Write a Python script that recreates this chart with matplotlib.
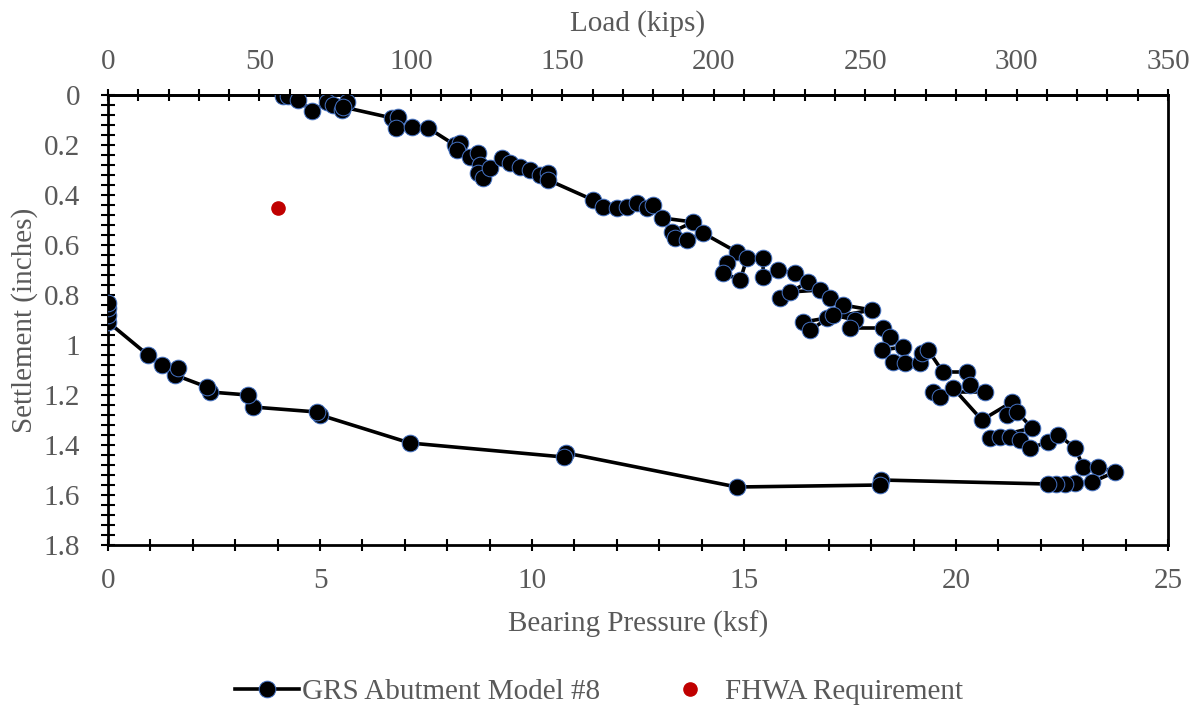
import matplotlib.pyplot as plt
from matplotlib.ticker import MultipleLocator, FixedLocator, FuncFormatter

plt.rcParams['font.family'] = ['Liberation Serif', 'DejaVu Serif']

# load test of GRS abutment model #8: loading branch then unloading branch
pressure_ksf = [
    4.13, 4.25, 4.48, 4.81, 5.17, 5.31, 5.52, 5.64, 5.54,
    6.70, 6.84, 6.79, 7.17, 7.55, 8.18, 8.30, 8.23, 8.54, 8.73,
    8.77, 8.73, 8.84, 9.01, 9.29, 9.48, 9.72, 9.95, 10.19, 10.38, 10.38,
    11.44, 11.67, 12.00, 12.24, 12.48, 12.71, 12.85, 13.07, 13.80,
    13.30, 13.37, 13.66, 14.03, 14.83, 14.60, 14.50, 14.91, 15.07,
    15.45, 15.45, 15.80, 16.20, 16.51, 15.85, 16.08, 16.79, 17.03,
    17.33, 18.02, 16.96, 16.39, 16.56, 17.10, 17.62, 17.50, 18.28,
    18.44, 18.75, 18.25, 18.51, 18.80, 19.15, 19.20, 19.34, 19.69,
    20.26, 20.33, 20.68, 19.46, 19.62, 19.93, 20.61, 21.32, 21.20,
    21.44, 21.79, 20.80, 21.04, 21.27, 21.51, 21.75, 22.17, 22.41,
    22.81, 23.00, 23.35, 23.75,
    23.21, 22.81, 22.57, 22.36, 22.17, 18.23, 18.21, 14.83, 10.80,
    10.75, 7.12, 5.00, 4.93, 3.42, 3.30, 2.41, 2.33, 1.58, 1.65,
    1.27, 0.94, 0.0, 0.0, 0.0, 0.0,
]
settlement_in = [
    0.004, 0.004, 0.02, 0.064, 0.028, 0.04, 0.06, 0.028, 0.048,
    0.092, 0.088, 0.132, 0.128, 0.132, 0.20, 0.192, 0.22, 0.248, 0.232,
    0.28, 0.312, 0.332, 0.292, 0.252, 0.272, 0.288, 0.30, 0.32, 0.312, 0.34,
    0.42, 0.448, 0.452, 0.448, 0.432, 0.452, 0.44, 0.492, 0.508,
    0.548, 0.572, 0.58, 0.552, 0.628, 0.672, 0.712, 0.74, 0.652,
    0.652, 0.728, 0.70, 0.712, 0.748, 0.812, 0.788, 0.78, 0.812,
    0.84, 0.86, 0.892, 0.908, 0.94, 0.88, 0.90, 0.932, 0.932,
    0.968, 1.008, 1.02, 1.068, 1.072, 1.072, 1.032, 1.02, 1.108,
    1.108, 1.16, 1.188, 1.188, 1.208, 1.172, 1.30, 1.228, 1.28,
    1.268, 1.332, 1.372, 1.368, 1.368, 1.38, 1.412, 1.388, 1.36,
    1.412, 1.488, 1.488, 1.508,
    1.548, 1.552, 1.556, 1.556, 1.556, 1.54, 1.56, 1.568, 1.432,
    1.448, 1.392, 1.28, 1.268, 1.248, 1.20, 1.188, 1.168, 1.12, 1.092,
    1.08, 1.04, 0.908, 0.88, 0.852, 0.832,
]
fhwa_pressure = [4.0]
fhwa_settlement = [0.45]

load_ticks = [0, 50, 100, 150, 200, 250, 300, 350]
kips_per_ksf = 14.0
text_gray = '#595959'

fig = plt.figure(figsize=(11.98, 7.09), dpi=100)
ax = fig.add_axes([0.0902, 0.2313, 0.8848, 0.6347])

ax.plot(pressure_ksf, settlement_in, color='black', lw=2.6, marker='o',
        ms=12, mfc='black', mec='#4472C4', mew=0.7,
        label='GRS Abutment Model #8', zorder=3)
ax.plot(fhwa_pressure, fhwa_settlement, ls='none', marker='o', ms=9.5,
        color='#C00000', label='FHWA Requirement', zorder=4)

ax.set_xlim(0, 25)
ax.set_ylim(1.8, 0)
ax.xaxis.set_major_locator(MultipleLocator(5))
ax.xaxis.set_minor_locator(MultipleLocator(1))
ax.yaxis.set_major_locator(MultipleLocator(0.2))
ax.yaxis.set_minor_locator(MultipleLocator(0.04))
ax.yaxis.set_major_formatter(FuncFormatter(lambda v, p: '%g' % round(v, 2)))

for s in ax.spines.values():
    s.set_linewidth(2.0)
    s.set_color('black')

ax.tick_params(which='both', direction='inout', length=9, width=1.5,
               color='black', labelsize=21, labelcolor=text_gray, pad=12)
ax.tick_params(axis='y', which='both', length=10, pad=15)

ax.set_xlabel('Bearing Pressure (ksf)', fontsize=21, color=text_gray,
              labelpad=12)
ax.set_ylabel('Settlement (inches)', fontsize=21, color=text_gray,
              labelpad=4)

top = ax.secondary_xaxis('top', functions=(lambda x: x * kips_per_ksf,
                                           lambda x: x / kips_per_ksf))
top.xaxis.set_major_locator(FixedLocator(load_ticks))
top.xaxis.set_minor_locator(FixedLocator(range(0, 351, 10)))
top.spines['top'].set_linewidth(2.0)
top.tick_params(which='both', direction='inout', length=9, width=1.5,
                color='black', labelsize=21, labelcolor=text_gray, pad=10)
top.set_xlabel('Load (kips)', fontsize=21, color=text_gray, labelpad=13)

leg = fig.legend(loc='center', bbox_to_anchor=(0.5, 0.024), ncol=2,
                 frameon=False, fontsize=21, handlelength=2.2,
                 handletextpad=0.1, columnspacing=2.0)
for t in leg.get_texts():
    t.set_color(text_gray)

fig.savefig('out.png', dpi=100)
